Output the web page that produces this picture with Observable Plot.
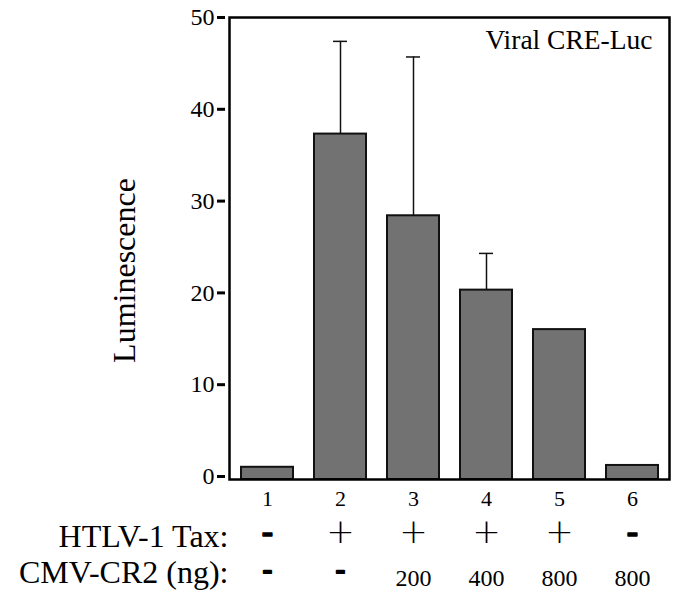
<!DOCTYPE html>
<html>
<head>
<meta charset="utf-8">
<script src="https://cdn.jsdelivr.net/npm/d3@7"></script>
<script src="https://cdn.jsdelivr.net/npm/@observablehq/plot@0.6"></script>
<style>
  body { margin: 0; background: #fff; }
  #chart svg { display: block; }
</style>
</head>
<body>
<div id="chart"></div>
<script>
const lanes = ["1", "2", "3", "4", "5", "6"];
const values = [1.0, 37.3, 28.4, 20.3, 16.0, 1.2];
const errTops = [null, 47.4, 45.7, 24.3, null, null];
const taxRow = ["-", "+", "+", "+", "+", "-"];
const cmvRow = ["-", "-", "200", "400", "800", "800"];
const yTicks = [0, 10, 20, 30, 40, 50];
const yMin = -0.33;

const data = lanes.map((l, i) => ({lane: l, v: values[i], e: errTops[i], tax: taxRow[i], cmv: cmvRow[i]}));
const errData = data.filter(d => d.e != null);
const taxPlus = data.filter(d => d.tax === "+");
const taxDash = data.filter(d => d.tax === "-");
const cmvNum = data.filter(d => d.cmv !== "-");
const cmvDash = data.filter(d => d.cmv === "-");
const serif = "'Liberation Serif', 'DejaVu Serif', serif";

const chart = Plot.plot({
  width: 682,
  height: 597,
  marginLeft: 229,
  marginRight: 13,
  marginTop: 17,
  marginBottom: 118,
  style: {fontFamily: serif, color: "#000", background: "#fff"},
  x: {domain: lanes, paddingInner: 0.29, paddingOuter: 0.145},
  y: {domain: [yMin, 50]},
  marks: [
    Plot.barY(data, {x: "lane", y1: () => yMin, y2: "v", fill: "#727272", stroke: "#111", strokeWidth: 2}),
    Plot.ruleX(errData, {x: "lane", y1: "v", y2: "e", stroke: "#111", strokeWidth: 1.5}),
    Plot.tickY(errData, {x: "lane", y: "e", stroke: "#111", strokeWidth: 1.5, inset: 19}),
    Plot.frame({stroke: "#000", strokeWidth: 2.5}),
    Plot.axisY(yTicks, {tickSize: 8, dx: -4, tickPadding: 3, strokeWidth: 3, fontSize: 24, label: null}),
    Plot.axisX({tickSize: 0, tickPadding: 11, fontSize: 22, label: null}),
    Plot.text(taxPlus, {x: "lane", text: "tax", frameAnchor: "bottom", lineAnchor: "bottom", dy: 63,
      fontSize: 34, fontWeight: 300, fontFamily: "DejaVu Sans", fill: "#000"}),
    Plot.text(taxDash, {x: "lane", text: "tax", frameAnchor: "bottom", lineAnchor: "bottom", dy: 63,
      fontSize: 34, fontWeight: "bold", fill: "#000", stroke: "#000", strokeWidth: 1.5}),
    Plot.text(cmvNum, {x: "lane", text: "cmv", frameAnchor: "bottom", lineAnchor: "bottom", dy: 106, fontSize: 24, fill: "#000"}),
    Plot.text(cmvDash, {x: "lane", text: "cmv", frameAnchor: "bottom", lineAnchor: "bottom", dy: 98,
      fontSize: 28, fontWeight: "bold", fill: "#000", stroke: "#000", strokeWidth: 2}),
    Plot.text(["HTLV-1 Tax:"], {frameAnchor: "bottom-left", lineAnchor: "bottom", textAnchor: "end", dx: -1, dy: 67, fontSize: 32}),
    Plot.text(["CMV-CR2 (ng):"], {frameAnchor: "bottom-left", lineAnchor: "bottom", textAnchor: "end", dx: -1, dy: 103, fontSize: 32}),
    Plot.text(["Viral CRE-Luc"], {frameAnchor: "top-right", lineAnchor: "bottom", textAnchor: "end", dx: -17, dy: 31, fontSize: 27.5}),
    Plot.text(["Luminescence"], {frameAnchor: "left", lineAnchor: "middle", textAnchor: "middle", dx: -105, dy: 22, rotate: -90, fontSize: 32})
  ]
});
document.getElementById("chart").append(chart);
</script>
</body>
</html>
